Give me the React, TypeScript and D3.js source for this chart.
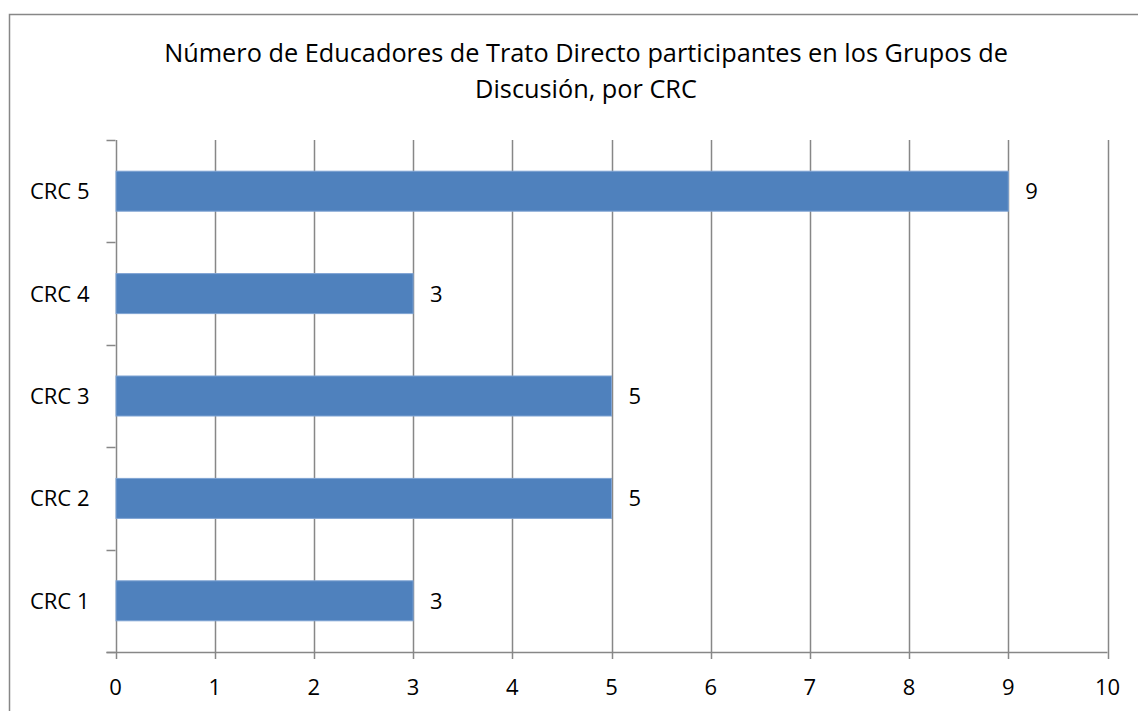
import React from "react";
import * as d3 from "d3";

const categories = ["CRC 1", "CRC 2", "CRC 3", "CRC 4", "CRC 5"];
const values = [3, 5, 5, 3, 9];
const xTicks = [0, 1, 2, 3, 4, 5, 6, 7, 8, 9, 10];
const titleLines = [
  "Número de Educadores de Trato Directo participantes en los Grupos de",
  "Discusión, por CRC",
];

const W = 1138;
const H = 711;
const FONT = "'Open Sans', 'Liberation Sans', sans-serif";

export default function App() {
  const left = 115.5;
  const right = 1107.5;
  const top = 140;
  const bottom = 652;
  const x = d3.scaleLinear().domain([0, 10]).range([left, right]);
  const yOrder = [...categories].reverse();
  const y = d3.scaleBand().domain(yOrder).range([top, bottom]).paddingInner(0).paddingOuter(0);
  const bw = y.bandwidth();
  const barH = 40;
  const bounds = d3.range(categories.length + 1).map((i) => top + i * bw);
  const grid = "#878787";

  return (
    <svg width={W} height={H} style={{ position: "absolute", left: 0, top: 0 }}>
      <rect x={0} y={0} width={W} height={H} fill="#fff" />
      <rect x={9.5} y={14.5} width={1160} height={760} fill="none" stroke="#878787" strokeWidth={1.5} />
      {titleLines.map((t, i) => (
        <text key={i} x={586} y={62 + i * 35.5} textAnchor="middle" fontFamily={FONT} fontSize={25.3} fill="#000">
          {t}
        </text>
      ))}
      {xTicks.map((t) => (
        <line key={"g" + t} x1={Math.round(x(t)) + 0.5} x2={Math.round(x(t)) + 0.5} y1={top} y2={bottom + 7} stroke={grid} strokeWidth={1.5} />
      ))}
      {bounds.map((b, i) => (
        <line key={"yt" + i} x1={left - 9} x2={left} y1={Math.round(b) + 0.5} y2={Math.round(b) + 0.5} stroke={grid} strokeWidth={1.5} />
      ))}
      <line x1={left - 9} x2={right} y1={bottom + 0.5} y2={bottom + 0.5} stroke={grid} strokeWidth={1.5} />
      {categories.map((c, i) => {
        const cy = (y(c) as number) + bw / 2;
        return (
          <g key={c}>
            <rect x={x(0) + 0.5} y={cy - barH / 2} width={x(values[i]) - x(0) - 0.5} height={barH} fill="#4F81BD" stroke="#7FA3D3" strokeWidth={1} />
            <text x={x(values[i]) + 17} y={cy} dy="0.36em" fontFamily={FONT} fontSize={22} fill="#000">
              {values[i]}
            </text>
            <text x={left - 26} y={cy} dy="0.36em" textAnchor="end" fontFamily={FONT} fontSize={22} fill="#000">
              {c}
            </text>
          </g>
        );
      })}
      {xTicks.map((t) => (
        <text key={"xl" + t} x={x(t)} y={687} dy="0.36em" textAnchor="middle" fontFamily={FONT} fontSize={22} fill="#000">
          {t}
        </text>
      ))}
    </svg>
  );
}
